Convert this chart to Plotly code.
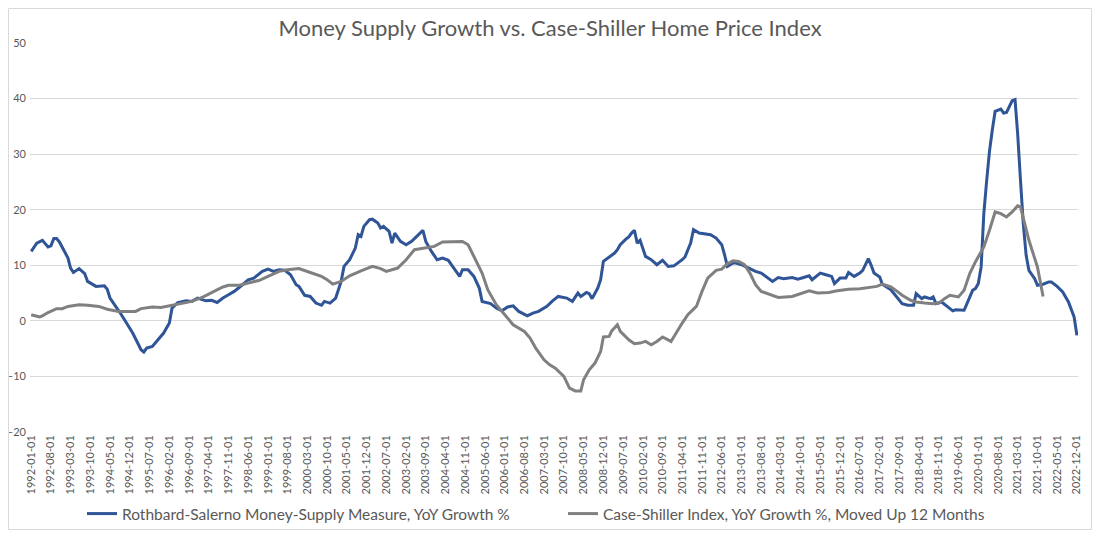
import pandas as pd
import plotly.graph_objects as go

# Rothbard-Salerno money supply, YoY growth %
tms_dates = [
    "1992-01", "1992-03", "1992-05", "1992-07", "1992-08", "1992-09", "1992-10", "1992-11",
    "1993-02", "1993-03", "1993-04", "1993-06", "1993-08", "1993-09", "1993-12",
    "1994-03", "1994-04", "1994-05", "1994-07", "1994-09", "1995-01", "1995-04", "1995-05",
    "1995-06", "1995-08", "1995-10", "1995-12", "1996-02", "1996-03", "1996-05", "1996-08",
    "1996-10", "1996-12", "1997-03", "1997-05", "1997-07", "1997-09", "1997-11", "1998-01",
    "1998-04", "1998-06", "1998-08", "1998-11", "1999-01", "1999-03", "1999-05", "1999-07",
    "1999-09", "1999-11", "1999-12", "2000-02", "2000-04", "2000-06", "2000-08", "2000-09",
    "2000-11", "2001-01", "2001-03", "2001-04", "2001-06", "2001-08", "2001-09", "2001-10",
    "2001-11", "2002-01", "2002-02", "2002-04", "2002-05", "2002-06", "2002-08", "2002-09",
    "2002-10", "2002-12", "2003-02", "2003-04", "2003-06", "2003-08", "2003-09", "2003-11",
    "2004-01", "2004-03", "2004-05", "2004-07", "2004-09", "2004-10", "2004-12", "2005-02",
    "2005-04", "2005-05", "2005-08", "2005-10", "2005-12", "2006-02", "2006-04", "2006-06",
    "2006-09", "2006-11", "2007-01", "2007-04", "2007-06", "2007-08", "2007-11", "2008-01",
    "2008-03", "2008-04", "2008-06", "2008-07", "2008-08", "2008-10", "2008-11", "2008-12",
    "2009-02", "2009-04", "2009-05", "2009-06", "2009-08", "2009-09", "2009-10", "2009-11",
    "2009-12", "2010-01", "2010-03", "2010-05", "2010-07", "2010-09", "2010-11", "2011-01",
    "2011-04", "2011-05", "2011-07", "2011-08", "2011-10", "2011-12", "2012-02", "2012-04",
    "2012-06", "2012-07", "2012-08", "2012-10", "2012-11", "2013-01", "2013-03", "2013-06",
    "2013-08", "2013-10", "2013-12", "2014-02", "2014-04", "2014-07", "2014-09", "2014-11",
    "2015-01", "2015-02", "2015-05", "2015-07", "2015-09", "2015-10", "2015-12", "2016-02",
    "2016-03", "2016-05", "2016-07", "2016-08", "2016-10", "2016-11", "2016-12", "2017-02",
    "2017-03", "2017-06", "2017-08", "2017-10", "2017-12", "2018-02", "2018-03", "2018-05",
    "2018-06", "2018-08", "2018-09", "2018-10", "2018-12", "2019-02", "2019-04", "2019-05",
    "2019-08", "2019-09", "2019-11", "2019-12", "2020-01", "2020-02", "2020-03", "2020-04",
    "2020-05", "2020-06", "2020-07", "2020-09", "2020-10", "2020-11", "2020-12", "2021-01",
    "2021-02", "2021-03", "2021-04", "2021-05", "2021-06", "2021-07", "2021-09", "2021-10",
    "2021-12", "2022-02", "2022-03", "2022-05", "2022-07", "2022-08", "2022-09", "2022-11",
    "2022-12",
]
tms_growth = [
    12.5, 14.0, 14.5, 13.3, 13.5, 14.8, 14.8, 14.2,
    11.3, 9.5, 8.7, 9.4, 8.5, 7.1, 6.2,
    6.3, 5.7, 4.1, 2.6, 1.1, -2.2, -5.2, -5.6,
    -4.9, -4.6, -3.4, -2.2, -0.4, 2.3, 3.3, 3.6,
    3.5, 4.1, 3.6, 3.7, 3.3, 4.1, 4.7, 5.3,
    6.5, 7.4, 7.7, 8.9, 9.3, 8.9, 9.2, 9.1,
    8.3, 6.5, 6.2, 4.6, 4.4, 3.2, 2.8, 3.5,
    3.2, 4.1, 7.1, 9.8, 11.0, 13.1, 15.5, 15.2,
    17.0, 18.2, 18.3, 17.6, 16.7, 17.0, 16.1, 14.0,
    15.8, 14.3, 13.7, 14.3, 15.3, 16.3, 14.3, 12.5,
    11.0, 11.3, 10.9, 9.5, 8.0, 9.2, 9.2, 8.0,
    5.9, 3.5, 3.1, 2.3, 1.8, 2.5, 2.7, 1.7,
    0.9, 1.4, 1.7, 2.6, 3.6, 4.4, 4.1, 3.5,
    5.0, 4.4, 5.1, 4.9, 4.0, 5.9, 7.4, 10.7,
    11.5, 12.2, 12.8, 13.7, 14.7, 15.1, 15.8, 16.3,
    14.0, 14.5, 11.6, 11.0, 10.1, 10.9, 9.8, 9.9,
    11.0, 11.5, 14.0, 16.4, 15.8, 15.6, 15.5, 14.9,
    13.7, 11.9, 9.8, 10.4, 10.4, 10.1, 9.6, 8.9,
    8.6, 7.9, 7.1, 7.8, 7.6, 7.8, 7.5, 7.8,
    8.1, 7.4, 8.6, 8.3, 8.0, 6.7, 7.7, 7.7,
    8.7, 8.0, 8.6, 9.1, 11.2, 10.0, 8.6, 7.9,
    6.6, 5.6, 4.3, 3.1, 2.8, 2.8, 4.9, 4.0,
    4.3, 4.0, 4.3, 3.1, 3.4, 2.5, 1.8, 2.0,
    1.9, 3.1, 5.5, 5.8, 6.7, 9.7, 19.3, 25.3,
    30.5, 34.4, 37.7, 38.1, 37.4, 37.5, 38.6, 39.6,
    39.8, 33.8, 25.3, 17.5, 11.8, 9.1, 7.6, 6.4,
    6.6, 7.0, 7.0, 6.2, 5.2, 4.4, 3.4, 0.7,
    -2.6,
]

# Case-Shiller index YoY growth %, shifted up 12 months
cs_dates = [
    "1992-01", "1992-04", "1992-05", "1992-07", "1992-10", "1992-12", "1993-02", "1993-06",
    "1993-09", "1994-01", "1994-04", "1994-08", "1994-10", "1995-02", "1995-04", "1995-08",
    "1995-11", "1996-03", "1996-06", "1996-10", "1997-02", "1997-05", "1997-09", "1997-11",
    "1998-03", "1998-06", "1998-10", "1999-01", "1999-05", "1999-08", "1999-12", "2000-04",
    "2000-08", "2000-10", "2000-12", "2001-03", "2001-06", "2001-10", "2002-02", "2002-05",
    "2002-07", "2002-11", "2003-02", "2003-05", "2003-09", "2003-12", "2004-03", "2004-08",
    "2004-10", "2004-12", "2005-02", "2005-05", "2005-07", "2005-10", "2006-01", "2006-04",
    "2006-08", "2006-10", "2006-12", "2007-03", "2007-05", "2007-07", "2007-10", "2007-12",
    "2008-02", "2008-04", "2008-05", "2008-07", "2008-09", "2008-11", "2008-12", "2009-02",
    "2009-03", "2009-05", "2009-06", "2009-09", "2009-11", "2010-01", "2010-03", "2010-05",
    "2010-07", "2010-09", "2010-12", "2011-01", "2011-04", "2011-06", "2011-09", "2011-11",
    "2012-01", "2012-04", "2012-06", "2012-08", "2012-10", "2012-12", "2013-02", "2013-04",
    "2013-06", "2013-08", "2013-11", "2014-02", "2014-07", "2014-10", "2015-01", "2015-04",
    "2015-08", "2015-11", "2016-03", "2016-07", "2016-11", "2017-01", "2017-03", "2017-06",
    "2017-08", "2017-10", "2018-01", "2018-03", "2018-06", "2018-09", "2018-11", "2019-01",
    "2019-03", "2019-06", "2019-08", "2019-10", "2019-12", "2020-03", "2020-05", "2020-07",
    "2020-09", "2020-11", "2021-01", "2021-03", "2021-04", "2021-05", "2021-07", "2021-10",
    "2021-11", "2021-12",
]
cs_growth = [
    1.1, 0.7, 0.9, 1.5, 2.2, 2.2, 2.6, 2.9,
    2.8, 2.6, 2.1, 1.7, 1.7, 1.7, 2.2, 2.5,
    2.4, 2.8, 3.0, 3.5, 4.3, 5.0, 6.1, 6.4,
    6.4, 6.8, 7.3, 8.0, 8.9, 9.2, 9.4, 8.7,
    8.0, 7.4, 6.6, 7.1, 8.1, 9.0, 9.8, 9.4,
    8.9, 9.5, 11.0, 12.8, 13.1, 13.4, 14.2, 14.3,
    14.3, 13.7, 11.6, 8.6, 5.6, 2.9, 1.1, -0.7,
    -1.9, -3.1, -4.9, -7.0, -7.9, -8.5, -10.0, -12.1,
    -12.6, -12.6, -10.6, -8.8, -7.6, -5.5, -2.9, -2.8,
    -1.8, -0.7, -1.9, -3.4, -4.1, -4.0, -3.7, -4.3,
    -3.7, -2.9, -3.7, -2.8, -0.4, 1.1, 2.6, 5.3,
    7.7, 9.1, 9.3, 10.3, 10.8, 10.7, 10.1, 8.6,
    6.5, 5.3, 4.7, 4.2, 4.4, 4.9, 5.4, 5.0,
    5.1, 5.4, 5.7, 5.8, 6.0, 6.2, 6.6, 6.1,
    5.4, 4.6, 3.7, 3.4, 3.2, 3.1, 3.2, 4.0,
    4.6, 4.3, 5.5, 8.5, 10.6, 13.3, 16.3, 19.6,
    19.3, 18.7, 19.6, 20.7, 20.5, 18.4, 14.5, 9.7,
    7.3, 4.4,
]

tick_dates = pd.date_range("1992-01-01", "2022-12-01", freq="7MS")
y_ticks = [-20, -10, 0, 10, 20, 30, 40, 50]

txt = "#595959"
# page body has an 8px margin, so the figure is a bit smaller than the window
W, H = 1084, 522
mg = dict(l=22, r=14, t=35, b=98, autoexpand=False)
pw = W - mg["l"] - mg["r"]
ph = H - mg["t"] - mg["b"]

fig = go.Figure()
fig.add_trace(go.Scatter(
    x=pd.to_datetime(tms_dates), y=tms_growth, mode="lines",
    name="Rothbard-Salerno Money-Supply Measure, YoY Growth %",
    line=dict(color="#2f5597", width=3),
))
fig.add_trace(go.Scatter(
    x=pd.to_datetime(cs_dates), y=cs_growth, mode="lines",
    name="Case-Shiller Index, YoY Growth %, Moved Up 12 Months",
    line=dict(color="#808080", width=3),
))

fig.update_layout(
    width=W, height=H,
    margin=mg,
    paper_bgcolor="white", plot_bgcolor="white",
    font=dict(family="Lato, 'Open Sans', sans-serif", color=txt),
    title=dict(text="Money Supply Growth vs. Case-Shiller Home Price Index",
               x=0.5, xanchor="center", y=1 - 20 / H, yanchor="middle",
               font=dict(size=22, color=txt)),
    legend=dict(orientation="h", x=(74 - mg["l"]) / pw, xanchor="left",
                y=-(506 - mg["t"] - ph) / ph, yanchor="middle",
                font=dict(size=15.5, color=txt), entrywidth=436,
                itemwidth=30, bgcolor="rgba(0,0,0,0)"),
    xaxis=dict(type="date", range=["1991-12-19", "2022-12-13"],
               tickvals=tick_dates, ticktext=[d.strftime("%Y-%m-%d") for d in tick_dates],
               tickangle=-90, tickfont=dict(size=11, color=txt), automargin=False,
               showgrid=False, zeroline=False, showline=False, ticks=""),
    yaxis=dict(range=[-20, 50], tickvals=y_ticks, tickfont=dict(size=11, color=txt),
               gridcolor="#d9d9d9", gridwidth=1, zeroline=False, showline=False,
               ticks="", ticklabelstandoff=3, automargin=False),
    shapes=[dict(type="rect", xref="paper", yref="paper",
                 x0=-(mg["l"] - 0.5) / pw, x1=1 + (mg["r"] - 0.5) / pw,
                 y0=-(mg["b"] - 0.5) / ph, y1=1 + (mg["t"] - 0.5) / ph,
                 line=dict(color="#d9d9d9", width=1))],
)

fig.write_html("out.html")
